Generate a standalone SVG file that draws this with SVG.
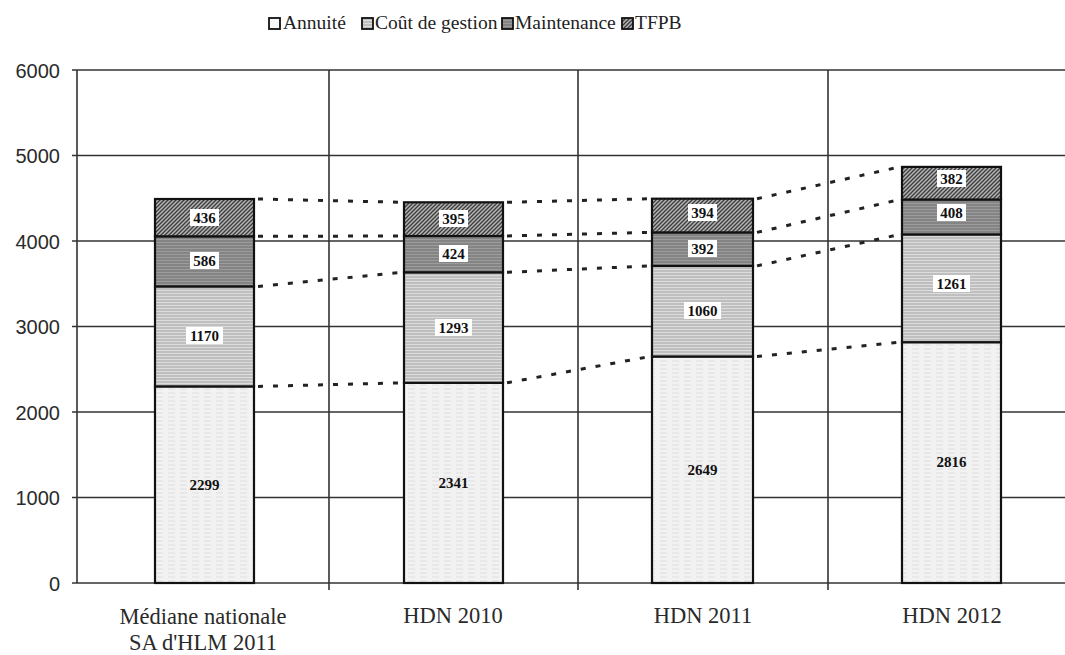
<svg xmlns="http://www.w3.org/2000/svg" width="1065" height="655" viewBox="0 0 1065 655">
<style>
.grid{stroke:#333;stroke-width:1.6;fill:none}
.seg{stroke:#111;stroke-width:2.2}
.lbl{font-family:"Liberation Serif",serif;font-weight:bold;font-size:15px;fill:#111;text-anchor:middle}
.lblbg{fill:#fff}
.ax{font-family:"Liberation Sans",sans-serif;font-size:20px;fill:#2a2a2a;text-anchor:end}
.cat{font-family:"Liberation Serif",serif;font-size:22.5px;fill:#2a2a2a;text-anchor:middle}
.leg{font-family:"Liberation Serif",serif;font-size:19.5px;fill:#222}
.dot{stroke:#222;stroke-width:3;stroke-dasharray:5 10;fill:none}
</style>
<defs>
<pattern id="pAnn" width="12" height="4" patternUnits="userSpaceOnUse">
<rect width="12" height="4" fill="#f2f2f2"/>
<line x1="0" y1="1" x2="7" y2="1" stroke="#dedede" stroke-width="1"/>
</pattern>
<pattern id="pCout" width="8" height="3" patternUnits="userSpaceOnUse">
<rect width="8" height="3" fill="#dcdcdc"/>
<line x1="0" y1="1" x2="8" y2="1" stroke="#a2a2a2" stroke-width="1"/>
</pattern>
<pattern id="pMaint" width="8" height="3" patternUnits="userSpaceOnUse">
<rect width="8" height="3" fill="#9c9c9c"/>
<line x1="0" y1="1" x2="8" y2="1" stroke="#6c6c6c" stroke-width="1"/>
</pattern>
<pattern id="pTFPB" width="4" height="4" patternUnits="userSpaceOnUse">
<rect width="4" height="4" fill="#b4b4b4"/>
<path d="M-1,1 L1,-1 M0,4 L4,0 M3,5 L5,3" stroke="#3c3c3c" stroke-width="1.3"/>
</pattern>
</defs>
<rect width="1065" height="655" fill="#fff"/>

<g id="legend">
<rect x="269" y="18" width="11" height="11" fill="#fafafa" stroke="#111" stroke-width="1.8"/>
<text class="leg" x="283" y="29">Annuité</text>
<rect x="362" y="18" width="11" height="11" fill="url(#pCout)" stroke="#111" stroke-width="1.8"/>
<text class="leg" x="375" y="29">Coût de gestion</text>
<rect x="502" y="18" width="11" height="11" fill="url(#pMaint)" stroke="#111" stroke-width="1.8"/>
<text class="leg" x="515" y="29">Maintenance</text>
<rect x="622" y="18" width="11" height="11" fill="url(#pTFPB)" stroke="#111" stroke-width="1.8"/>
<text class="leg" x="635" y="29">TFPB</text>
</g>

<g id="axes">
<line class="grid" x1="72" y1="70" x2="1065" y2="70"/>
<line class="grid" x1="72" y1="155.5" x2="1065" y2="155.5"/>
<line class="grid" x1="72" y1="241" x2="1065" y2="241"/>
<line class="grid" x1="72" y1="326.5" x2="1065" y2="326.5"/>
<line class="grid" x1="72" y1="412" x2="1065" y2="412"/>
<line class="grid" x1="72" y1="497.5" x2="1065" y2="497.5"/>
<line class="grid" x1="72" y1="583" x2="1065" y2="583"/>
<line class="grid" x1="77" y1="70" x2="77" y2="583"/>
<line class="grid" x1="329" y1="70" x2="329" y2="590"/>
<line class="grid" x1="578" y1="70" x2="578" y2="590"/>
<line class="grid" x1="828" y1="70" x2="828" y2="590"/>
<text class="ax" x="60" y="78">6000</text>
<text class="ax" x="60" y="163">5000</text>
<text class="ax" x="60" y="249">4000</text>
<text class="ax" x="60" y="334">3000</text>
<text class="ax" x="60" y="420">2000</text>
<text class="ax" x="60" y="505">1000</text>
<text class="ax" x="60" y="591">0</text>
<text class="cat" x="203" y="624">Médiane nationale</text>
<text class="cat" x="203" y="650">SA d'HLM 2011</text>
<text class="cat" x="453" y="623">HDN 2010</text>
<text class="cat" x="703" y="623">HDN 2011</text>
<text class="cat" x="952" y="623">HDN 2012</text>
</g>

<g id="connectors">
<line class="dot" x1="258" y1="386.4" x2="402" y2="382.8"/>
<line class="dot" x1="507" y1="382.8" x2="650" y2="356.5"/>
<line class="dot" x1="757" y1="356.5" x2="900" y2="342.2"/>
<line class="dot" x1="258" y1="286.4" x2="402" y2="272.3"/>
<line class="dot" x1="507" y1="272.3" x2="650" y2="265.9"/>
<line class="dot" x1="757" y1="265.9" x2="900" y2="234.4"/>
<line class="dot" x1="258" y1="236.3" x2="402" y2="236"/>
<line class="dot" x1="507" y1="236" x2="650" y2="232.4"/>
<line class="dot" x1="757" y1="232.4" x2="900" y2="199.5"/>
<line class="dot" x1="258" y1="199" x2="402" y2="202.3"/>
<line class="dot" x1="507" y1="202.3" x2="650" y2="198.7"/>
<line class="dot" x1="757" y1="198.7" x2="900" y2="166.9"/>
</g>

<g id="bar-mediane">
<rect class="seg" x="155" y="386.4" width="99" height="196.6" fill="url(#pAnn)"/>
<rect class="seg" x="155" y="286.4" width="99" height="100" fill="url(#pCout)"/>
<rect class="seg" x="155" y="236.3" width="99" height="50.1" fill="url(#pMaint)"/>
<rect class="seg" x="155" y="199" width="99" height="37.3" fill="url(#pTFPB)"/>
<text class="lbl" x="204.5" y="490">2299</text>
<rect class="lblbg" x="186" y="327" width="37" height="17"/><text class="lbl" x="204.5" y="341">1170</text>
<rect class="lblbg" x="190" y="252" width="29" height="17"/><text class="lbl" x="204.5" y="266">586</text>
<rect class="lblbg" x="190" y="209" width="29" height="17"/><text class="lbl" x="204.5" y="223">436</text>
</g>

<g id="bar-hdn2010">
<rect class="seg" x="404" y="382.8" width="99" height="200.2" fill="url(#pAnn)"/>
<rect class="seg" x="404" y="272.3" width="99" height="110.5" fill="url(#pCout)"/>
<rect class="seg" x="404" y="236" width="99" height="36.3" fill="url(#pMaint)"/>
<rect class="seg" x="404" y="202.3" width="99" height="33.7" fill="url(#pTFPB)"/>
<text class="lbl" x="453.5" y="488">2341</text>
<rect class="lblbg" x="435" y="319" width="37" height="17"/><text class="lbl" x="453.5" y="333">1293</text>
<rect class="lblbg" x="439" y="245" width="29" height="17"/><text class="lbl" x="453.5" y="259">424</text>
<rect class="lblbg" x="439" y="210" width="29" height="17"/><text class="lbl" x="453.5" y="224">395</text>
</g>

<g id="bar-hdn2011">
<rect class="seg" x="652" y="356.5" width="101" height="226.5" fill="url(#pAnn)"/>
<rect class="seg" x="652" y="265.9" width="101" height="90.6" fill="url(#pCout)"/>
<rect class="seg" x="652" y="232.4" width="101" height="33.5" fill="url(#pMaint)"/>
<rect class="seg" x="652" y="198.7" width="101" height="33.7" fill="url(#pTFPB)"/>
<text class="lbl" x="702.5" y="475">2649</text>
<rect class="lblbg" x="684" y="302" width="37" height="17"/><text class="lbl" x="702.5" y="316">1060</text>
<rect class="lblbg" x="688" y="240" width="29" height="17"/><text class="lbl" x="702.5" y="254">392</text>
<rect class="lblbg" x="688" y="204" width="29" height="17"/><text class="lbl" x="702.5" y="218">394</text>
</g>

<g id="bar-hdn2012">
<rect class="seg" x="902" y="342.2" width="99" height="240.8" fill="url(#pAnn)"/>
<rect class="seg" x="902" y="234.4" width="99" height="107.8" fill="url(#pCout)"/>
<rect class="seg" x="902" y="199.5" width="99" height="34.9" fill="url(#pMaint)"/>
<rect class="seg" x="902" y="166.9" width="99" height="32.6" fill="url(#pTFPB)"/>
<text class="lbl" x="951.5" y="467">2816</text>
<rect class="lblbg" x="933" y="275" width="37" height="17"/><text class="lbl" x="951.5" y="289">1261</text>
<rect class="lblbg" x="937" y="204" width="29" height="17"/><text class="lbl" x="951.5" y="218">408</text>
<rect class="lblbg" x="937" y="170" width="29" height="17"/><text class="lbl" x="951.5" y="184">382</text>
</g>
</svg>
